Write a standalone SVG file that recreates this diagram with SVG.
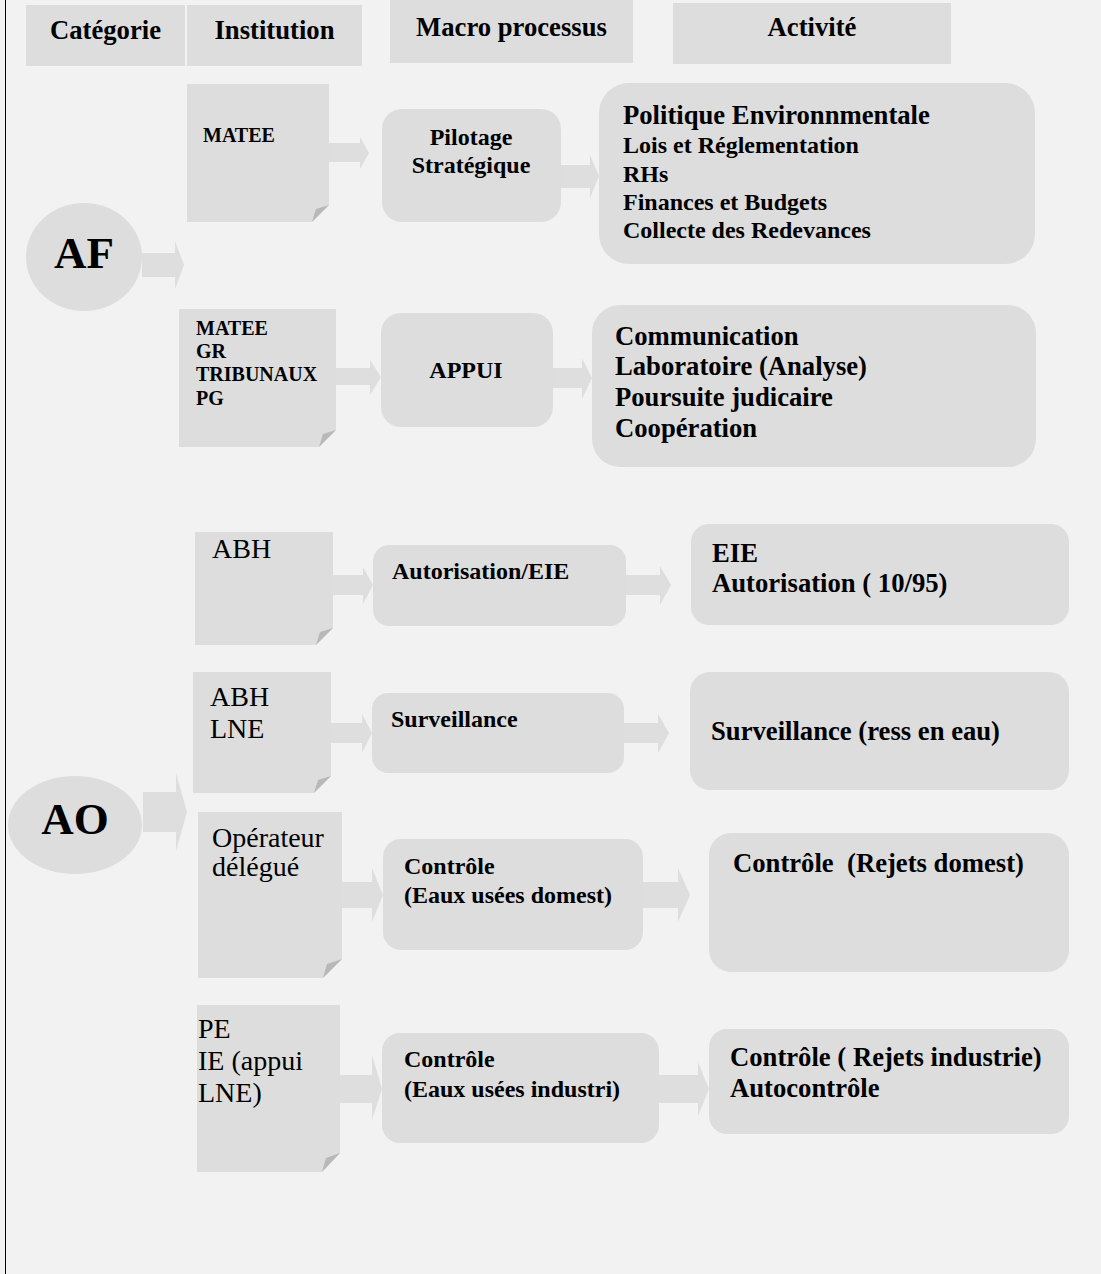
<svg xmlns="http://www.w3.org/2000/svg" width="1101" height="1274" viewBox="0 0 1101 1274">
<style>
.bg{fill:#f2f2f2}
.box{fill:#dddddd}
.fold{fill:#b8b8b8}
.arr{fill:#dedede}
text{font-family:"Liberation Serif","Times New Roman",serif;fill:#000}
.b{font-weight:bold}
.h{font-size:26.67px;font-weight:bold;text-anchor:middle}
.big{font-size:45px;font-weight:bold;text-anchor:middle}
.n1{font-size:20px;font-weight:bold}
.n2{font-size:28px}
.m{font-size:24px;font-weight:bold}
.a{font-size:26.67px;font-weight:bold}
.a2{font-size:24px;font-weight:bold}
.pre{white-space:pre}
</style>
<rect class="bg" x="0" y="0" width="1101" height="1274"/>
<line x1="5.5" y1="0" x2="5.5" y2="1274" stroke="#000" stroke-width="1"/>

<g id="headers">
  <g id="h-categorie"><rect class="box" x="26" y="5" width="159" height="61"/><text class="h" x="105.5" y="39">Catégorie</text></g>
  <g id="h-institution"><rect class="box" x="187" y="5" width="175" height="61"/><text class="h" x="274.5" y="39">Institution</text></g>
  <g id="h-macro"><rect class="box" x="390" y="0" width="243" height="63"/><text class="h" x="511.5" y="36">Macro processus</text></g>
  <g id="h-activite"><rect class="box" x="673" y="3" width="278" height="61"/><text class="h" x="812" y="36">Activité</text></g>
</g>

<g id="connectors">
  <polygon class="arr" points="142,253 175,253 175,241 184,265 175,289 175,277 142,277"/>
  <polygon class="arr" points="143,792 176,792 176,773 187,812 176,851 176,832 143,832"/>
  <polygon class="arr" points="329,143 360,143 360,137 369,153 360,169 360,162 329,162"/>
  <polygon class="arr" points="561,165 590,165 590,155 599,176 590,198 590,188 561,188"/>
  <polygon class="arr" points="336,368 370,368 370,360 381,377 370,395 370,385 336,385"/>
  <polygon class="arr" points="553,368 582,368 582,358 592,378 582,399 582,388 553,388"/>
  <polygon class="arr" points="333,575 363,575 363,567 373,585 363,604 363,595 333,595"/>
  <polygon class="arr" points="626,575 660,575 660,566 671,585 660,605 660,595 626,595"/>
  <polygon class="arr" points="331,723 362,723 362,714 372,733 362,753 362,743 331,743"/>
  <polygon class="arr" points="624,723 658,723 658,714 669,733 658,753 658,743 624,743"/>
  <polygon class="arr" points="342,882 372,882 372,868 383,895 372,922 372,908 342,908"/>
  <polygon class="arr" points="643,882 678,882 678,868 690,895 678,922 678,908 643,908"/>
  <polygon class="arr" points="340,1075 372,1075 372,1055 382,1089 372,1120 372,1103 340,1103"/>
  <polygon class="arr" points="659,1075 698,1075 698,1062 709,1089 698,1116 698,1103 659,1103"/>
</g>

<g id="cat-AF"><ellipse class="box" cx="84" cy="257" rx="58" ry="54"/><text class="big" x="84" y="268">AF</text></g>
<g id="cat-AO"><ellipse class="box" cx="75" cy="825" rx="67" ry="49"/><text class="big" x="75" y="834">AO</text></g>

<g id="inst-1">
  <polygon class="box" points="187,84 329,84 329,205 312,222 187,222"/>
  <polygon class="fold" points="329,205 312,222 316,209"/>
  <text class="n1" x="203" y="142">MATEE</text>
</g>
<g id="inst-2">
  <polygon class="box" points="179,309 336,309 336,430 319,447 179,447"/>
  <polygon class="fold" points="336,430 319,447 323,434"/>
  <text class="n1" x="196" y="335">MATEE</text>
  <text class="n1" x="196" y="358">GR</text>
  <text class="n1" x="196" y="381">TRIBUNAUX</text>
  <text class="n1" x="196" y="405">PG</text>
</g>
<g id="inst-3">
  <polygon class="box" points="195,532 333,532 333,628 316,645 195,645"/>
  <polygon class="fold" points="333,628 316,645 320,632"/>
  <text class="n2" x="212" y="558">ABH</text>
</g>
<g id="inst-4">
  <polygon class="box" points="193,672 331,672 331,776 314,793 193,793"/>
  <polygon class="fold" points="331,776 314,793 318,780"/>
  <text class="n2" x="210" y="706">ABH</text>
  <text class="n2" x="210" y="738">LNE</text>
</g>
<g id="inst-5">
  <polygon class="box" points="198,812 342,812 342,959 323,978 198,978"/>
  <polygon class="fold" points="342,959 323,978 327,964"/>
  <text class="n2" x="212" y="847">Opérateur</text>
  <text class="n2" x="212" y="876">délégué</text>
</g>
<g id="inst-6">
  <polygon class="box" points="197,1005 340,1005 340,1153 322,1172 197,1172"/>
  <polygon class="fold" points="340,1153 322,1172 326,1158"/>
  <text class="n2" x="198" y="1038">PE</text>
  <text class="n2" x="198" y="1070">IE (appui</text>
  <text class="n2" x="198" y="1102">LNE)</text>
</g>

<g id="macro-1"><rect class="box" x="382" y="109" width="179" height="113" rx="20"/>
  <text class="m" x="471" y="145" text-anchor="middle">Pilotage</text>
  <text class="m" x="471" y="173" text-anchor="middle">Stratégique</text></g>
<g id="macro-2"><rect class="box" x="381" y="313" width="172" height="114" rx="20"/>
  <text class="m" x="466" y="378" text-anchor="middle">APPUI</text></g>
<g id="macro-3"><rect class="box" x="373" y="545" width="253" height="81" rx="16"/>
  <text class="m" x="392" y="579">Autorisation/EIE</text></g>
<g id="macro-4"><rect class="box" x="372" y="693" width="252" height="80" rx="16"/>
  <text class="m" x="391" y="727">Surveillance</text></g>
<g id="macro-5"><rect class="box" x="383" y="839" width="260" height="111" rx="18"/>
  <text class="m" x="404" y="874">Contrôle</text>
  <text class="m" x="404" y="903">(Eaux usées domest)</text></g>
<g id="macro-6"><rect class="box" x="382" y="1033" width="277" height="110" rx="18"/>
  <text class="m" x="404" y="1067">Contrôle</text>
  <text class="m" x="404" y="1097">(Eaux usées industri)</text></g>

<g id="act-1"><rect class="box" x="599" y="83" width="436" height="181" rx="30"/>
  <text class="a" x="623" y="124">Politique Environnmentale</text>
  <text class="a2" x="623" y="153">Lois et Réglementation</text>
  <text class="a2" x="623" y="182">RHs</text>
  <text class="a2" x="623" y="210">Finances et Budgets</text>
  <text class="a2" x="623" y="238">Collecte des Redevances</text></g>
<g id="act-2"><rect class="box" x="592" y="305" width="444" height="162" rx="28"/>
  <text class="a" x="615" y="345">Communication</text>
  <text class="a" x="615" y="375">Laboratoire (Analyse)</text>
  <text class="a" x="615" y="406">Poursuite judicaire</text>
  <text class="a" x="615" y="437">Coopération</text></g>
<g id="act-3"><rect class="box" x="691" y="524" width="378" height="101" rx="18"/>
  <text class="a" x="712" y="562">EIE</text>
  <text class="a" x="712" y="592">Autorisation ( 10/95)</text></g>
<g id="act-4"><rect class="box" x="690" y="672" width="379" height="118" rx="20"/>
  <text class="a" x="711" y="740">Surveillance (ress en eau)</text></g>
<g id="act-5"><rect class="box" x="709" y="833" width="360" height="139" rx="22"/>
  <text class="a pre" x="733" y="872">Contrôle  (Rejets domest)</text></g>
<g id="act-6"><rect class="box" x="709" y="1029" width="360" height="105" rx="18"/>
  <text class="a" x="730" y="1066">Contrôle ( Rejets industrie)</text>
  <text class="a" x="730" y="1097">Autocontrôle</text></g>
</svg>
